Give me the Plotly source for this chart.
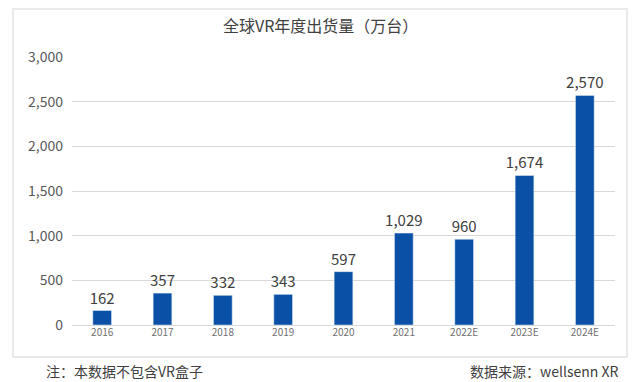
import plotly.graph_objects as go

categories = ["2016", "2017", "2018", "2019", "2020", "2021", "2022E", "2023E", "2024E"]
shipments = [162, 357, 332, 343, 597, 1029, 960, 1674, 2570]
y_ticks = [0, 500, 1000, 1500, 2000, 2500, 3000]
y_tick_labels = ["0", "500", "1,000", "1,500", "2,000", "2,500", "3,000"]
title_text = "全球VR年度出货量（万台）"
note_text = "注：本数据不包含VR盒子"
source_text = "数据来源：wellsenn XR"

W, H = 640, 382
L, R, T, B = 72, 25, 57, 57
pw, ph = W - L - R, H - T - B

def px(x):
    return (x - L) / pw

def py(y):
    return (H - B - y) / ph

fig = go.Figure()
fig.add_trace(go.Bar(
    x=categories, y=shipments,
    marker_color="#0A50A6",
    text=[f"{v:,}" for v in shipments],
    textposition="outside",
    constraintext="none",
    textfont=dict(size=15, color="#404040"),
    cliponaxis=False,
))

fig.update_layout(
    width=W, height=H,
    margin=dict(l=L, r=R, t=T, b=B, autoexpand=False),
    paper_bgcolor="white", plot_bgcolor="white",
    font=dict(family="Noto Sans CJK SC, Noto Sans, sans-serif", color="#595959"),
    bargap=0.69,
    showlegend=False,
    xaxis=dict(showgrid=False, showline=False, ticks="", automargin=False,
               tickfont=dict(size=10, color="#707070"), fixedrange=True),
    yaxis=dict(range=[0, 3000], tickvals=y_ticks, ticktext=y_tick_labels,
               automargin=False,
               showgrid=True, gridcolor="#d9d9d9", gridwidth=1, zeroline=True,
               zerolinecolor="#d9d9d9", zerolinewidth=1,
               tickfont=dict(size=14, color="#595959"), ticklabelstandoff=8),
    shapes=[dict(type="rect", xref="paper", yref="paper",
                 x0=px(13), x1=px(627), y0=py(357), y1=py(9),
                 line=dict(color="#e3e3e3", width=1.5), fillcolor="rgba(0,0,0,0)",
                 layer="below")],
    annotations=[
        dict(text=title_text, xref="paper", yref="paper", x=px(320), y=py(25),
             showarrow=False, xanchor="center", yanchor="middle",
             font=dict(size=16, color="#404040")),
        dict(text=note_text, xref="paper", yref="paper", x=px(44), y=py(371),
             showarrow=False, xanchor="left", yanchor="middle",
             font=dict(size=14, color="#404040")),
        dict(text=source_text, xref="paper", yref="paper", x=px(620), y=py(371),
             showarrow=False, xanchor="right", yanchor="middle",
             font=dict(size=14, color="#404040")),
    ],
)

fig.write_html("out.html", config={"displayModeBar": False},
               post_script="document.body.style.margin='0';document.body.style.overflow='hidden';")
